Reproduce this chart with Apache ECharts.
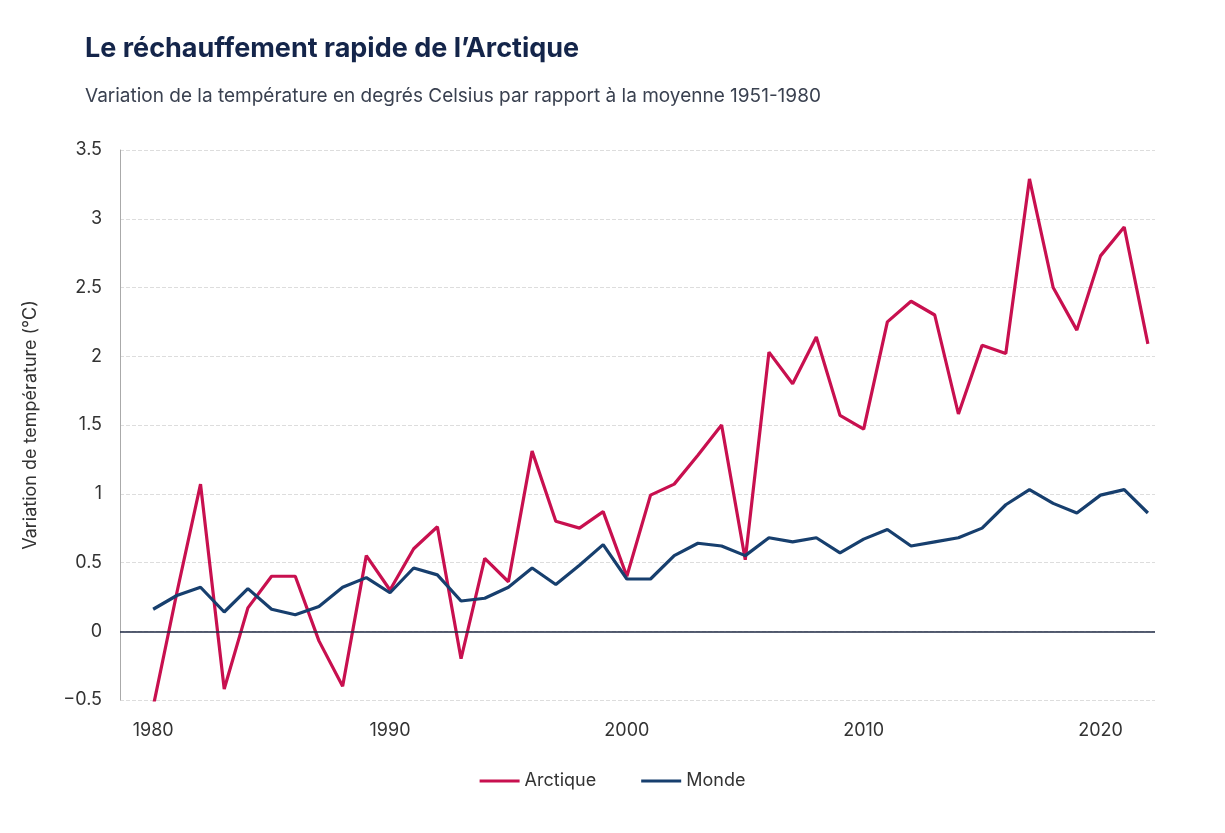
<!DOCTYPE html>
<html>
<head>
<meta charset="utf-8">
<script src="https://cdn.jsdelivr.net/npm/echarts@6/dist/echarts.min.js"></script>
<style>
    html, body {margin: 0; padding: 0; background: #fff;}
    #chart {width: 1225px; height: 833px;}
</style>
</head>
<body>
<div id="chart"></div>
<script>
// données
var years = [];
for (var y = 1980; y <= 2022; y++) {
    years.push(y)
}
var arctique = [-0.55, 0.28, 1.07, -0.42, 0.17, 0.40, 0.40, -0.07, -0.40, 0.55,
    0.30, 0.60, 0.76, -0.20, 0.53, 0.36, 1.31, 0.80, 0.75, 0.87,
    0.40, 0.99, 1.07, 1.28, 1.50, 0.52, 2.03, 1.80, 2.14, 1.57,
    1.47, 2.25, 2.40, 2.30, 1.58, 2.08, 2.02, 3.29, 2.50, 2.19,
    2.73, 2.94, 2.09];
var monde = [0.16, 0.26, 0.32, 0.14, 0.31, 0.16, 0.12, 0.18, 0.32, 0.39,
    0.28, 0.46, 0.41, 0.22, 0.24, 0.32, 0.46, 0.34, 0.48, 0.63,
    0.38, 0.38, 0.55, 0.64, 0.62, 0.55, 0.68, 0.65, 0.68, 0.57,
    0.67, 0.74, 0.62, 0.65, 0.68, 0.75, 0.92, 1.03, 0.93, 0.86,
    0.99, 1.03, 0.86];
var xLabels = [1980, 1990, 2000, 2010, 2020];

function pairs(vals) {
    var out = [];
    for (var i = 0; i < vals.length; i++) {
        out.push([years[i], vals[i]])
    }
    return out
}

var chart = echarts.init(document.getElementById('chart'));
var font = 'Inter, "Noto Sans", sans-serif';
var option = {
    backgroundColor: '#fff',
    textStyle: {fontFamily: font},
    title: [{
        text: 'Le réchauffement rapide de l’Arctique',
        left: 80, top: 30,
        textStyle: {fontSize: 27, fontWeight: 'bold', color: '#14254a', fontFamily: font}
    }, {
        text: 'Variation de la température en degrés Celsius par rapport à la moyenne 1951-1980',
        left: 80, top: 82,
        textStyle: {fontSize: 19, fontWeight: 'normal', color: '#3a4150', fontFamily: font}
    }],
    legend: {
        bottom: 38, left: 'center', itemGap: 45, itemWidth: 40,
        icon: 'path://M0,0 H40 V3 H0 Z',
        textStyle: {fontSize: 18, color: '#333'},
        data: ['Arctique', 'Monde']
    },
    grid: {left: 120, right: 70, top: 150, bottom: 133},
    xAxis: {
        type: 'value', min: 1978.6, max: 2022.3,
        splitLine: {show: false},
        axisLine: {show: false},
        axisTick: {show: false},
        axisLabel: {
            customValues: xLabels, fontSize: 18, color: '#333', margin: 22,
            formatter: function (v) { return String(v) }
        }
    },
    yAxis: {
        type: 'value', min: -0.5, max: 3.5, interval: 0.5,
        name: 'Variation de température (°C)',
        nameLocation: 'middle', nameGap: 80,
        nameTextStyle: {fontSize: 18, color: '#333'},
        axisLine: {show: true, lineStyle: {color: '#aaa', width: 1}},
        axisTick: {show: false},
        axisLabel: {
            fontSize: 18, color: '#333', margin: 18,
            formatter: function (v) { return v < 0 ? '−' + (-v) : String(v) }
        },
        splitLine: {lineStyle: {color: '#ddd', type: 'dashed'}}
    },
    series: [{
        name: 'Arctique', type: 'line', data: pairs(arctique), clip: false,
        showSymbol: false, color: '#c8104f', lineStyle: {width: 3.2}
    }, {
        name: 'Monde', type: 'line', data: pairs(monde), clip: false,
        showSymbol: false, color: '#173f6e', lineStyle: {width: 3.2},
        markLine: {
            silent: true, symbol: 'none', label: {show: false},
            lineStyle: {color: '#1f2a44', type: 'solid', width: 1.5},
            data: [{yAxis: 0}]
        }
    }]
};
chart.setOption(option);
</script>
</body>
</html>
